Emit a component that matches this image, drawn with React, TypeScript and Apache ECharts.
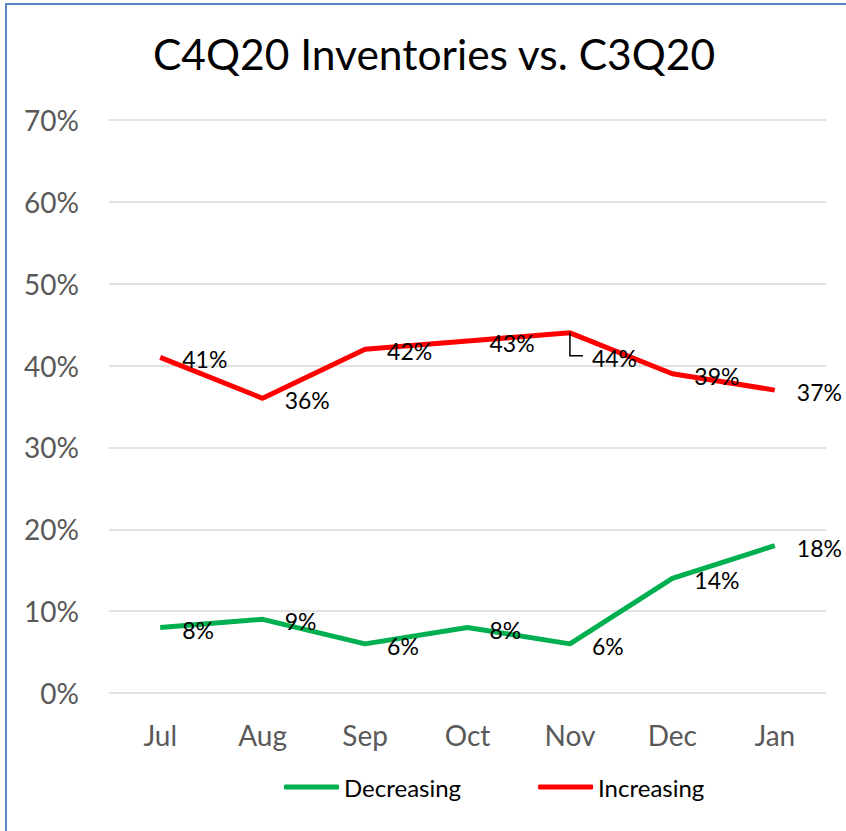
import React, { useEffect, useRef } from "react";
import * as echarts from "echarts";

const categories = ["Jul", "Aug", "Sep", "Oct", "Nov", "Dec", "Jan"];
const decreasing = [8, 9, 6, 8, 6, 14, 18];
const increasing = [41, 36, 42, 43, 44, 39, 37];
const titleText = "C4Q20 Inventories vs. C3Q20";
const FONT = "Lato, 'Open Sans', sans-serif";

export default function App() {
  const ref = useRef<HTMLDivElement>(null);
  useEffect(() => {
    if (!ref.current) return;
    const chart = echarts.init(ref.current, null, { renderer: "svg" });
    const labelBase = {
      show: true,
      position: "right" as const,
      distance: 22,
      offset: [0, 2],
      color: "#000",
      fontSize: 23,
      fontFamily: FONT,
      formatter: (p: any) => p.value + "%",
    };
    chart.setOption({
      animation: false,
      backgroundColor: "#fff",
      title: {
        text: titleText,
        left: 429,
        textAlign: "center",
        top: 27,
        textStyle: { fontSize: 42.5, fontWeight: "normal", color: "#000", fontFamily: FONT },
      },
      grid: { left: 109, right: 20, top: 120, bottom: 138 },
      xAxis: {
        type: "category",
        data: categories,
        boundaryGap: true,
        axisLine: { show: false },
        axisTick: { show: false },
        axisLabel: { color: "#595959", fontSize: 28, fontFamily: FONT, margin: 28 },
      },
      yAxis: {
        type: "value",
        min: 0,
        max: 70,
        interval: 10,
        axisLine: { show: false },
        axisTick: { show: false },
        splitLine: { lineStyle: { color: "#d9d9d9", width: 1.5 } },
        axisLabel: {
          color: "#595959",
          fontSize: 28,
          fontFamily: FONT,
          margin: 30,
          formatter: (v: number) => v + "%",
        },
      },
      legend: {
        bottom: 27,
        left: 279,
        itemWidth: 55,
        itemHeight: 5,
        itemGap: 77,
        icon: "roundRect",
        textStyle: { fontSize: 24, color: "#000", fontFamily: FONT },
        data: ["Decreasing", "Increasing"],
      },
      series: [
        {
          name: "Decreasing",
          type: "line",
          data: decreasing,
          symbol: "circle",
          symbolSize: 0,
          showSymbol: true,
          lineStyle: { color: "#00B050", width: 5 },
          itemStyle: { color: "#00B050" },
          label: labelBase,
        },
        {
          name: "Increasing",
          type: "line",
          data: increasing.map((v, i) =>
            i === 4 ? { value: v, label: { offset: [0, 25] } } : v
          ),
          symbol: "circle",
          symbolSize: 0,
          showSymbol: true,
          lineStyle: { color: "#FF0000", width: 5 },
          itemStyle: { color: "#FF0000" },
          label: labelBase,
        },
      ],
    });
    const p = chart.convertToPixel({ gridIndex: 0 }, [categories[4], increasing[4]]) as number[];
    if (p) {
      chart.setOption({
        graphic: [
          {
            type: "polyline",
            shape: { points: [[p[0], p[1]], [p[0], p[1] + 23], [p[0] + 13, p[1] + 23]] },
            style: { stroke: "#000", lineWidth: 1.5, fill: null },
            z: 10,
          },
        ],
      });
    }
    return () => chart.dispose();
  }, []);
  return (
    <div style={{ position: "fixed", left: 0, top: 0, width: 846, height: 831, background: "#fff" }}>
      <div ref={ref} style={{ position: "absolute", left: 0, top: 0, width: 846, height: 831 }} />
      <div
        style={{
          position: "absolute",
          left: 5,
          top: 3,
          width: 900,
          height: 900,
          borderLeft: "2px solid #5B87C8",
          borderTop: "2px solid #5B87C8",
          pointerEvents: "none",
        }}
      />
    </div>
  );
}
